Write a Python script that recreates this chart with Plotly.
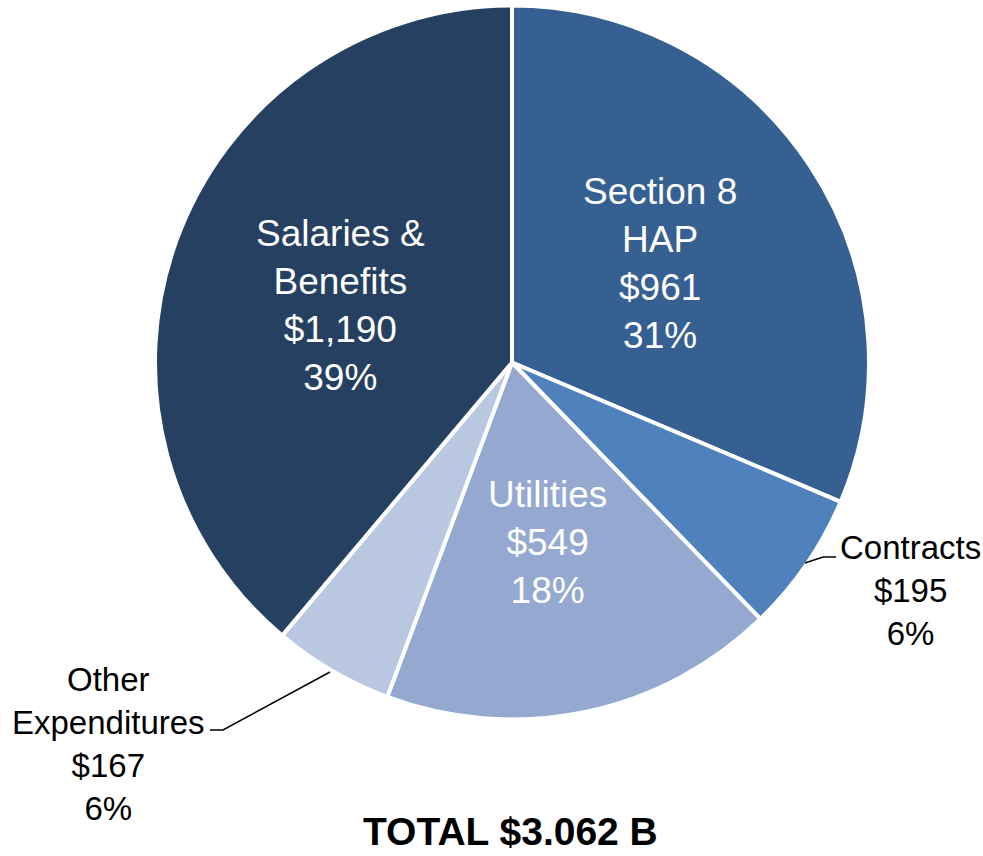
import plotly.graph_objects as go

W, H = 983, 856

categories = ["Section 8 HAP", "Contracts", "Utilities", "Other Expenditures", "Salaries & Benefits"]
values = [961, 195, 549, 167, 1190]
percents = ["31%", "6%", "18%", "6%", "39%"]
colors = ["#376092", "#4F81BD", "#95A9D0", "#B9C7E0", "#254061"]
total_label = "TOTAL $3.062 B"

FONT = "Liberation Sans Narrow, Arial Narrow, Liberation Sans, Arial, sans-serif"


def px(x, y):
    return x / W, 1 - y / H


fig = go.Figure(go.Pie(
    labels=categories,
    values=values,
    sort=False,
    direction="clockwise",
    rotation=0,
    marker=dict(colors=colors, line=dict(color="white", width=4)),
    textinfo="none",
    hoverinfo="label+value+percent",
    showlegend=False,
    domain=dict(x=[155 / W, 869 / W], y=[1 - 720 / H, 1 - 5 / H]),
))


def money(v):
    return "${:,}".format(v)


# label text per slice
texts = [
    "Section 8<br>HAP<br>%s<br>%s" % (money(values[0]), percents[0]),
    "Contracts<br>%s<br>%s" % (money(values[1]), percents[1]),
    "Utilities<br>%s<br>%s" % (money(values[2]), percents[2]),
    "Other<br>Expenditures<br>%s<br>%s" % (money(values[3]), percents[3]),
    "Salaries &<br>Benefits<br>%s<br>%s" % (money(values[4]), percents[4]),
]
label_pos = [(660, 264), (910, 590), (547, 542), (108, 744), (340, 305)]
label_col = ["white", "black", "white", "black", "white"]
label_size = [37, 33, 37, 33, 37]

for t, (x, y), c, s in zip(texts, label_pos, label_col, label_size):
    ax, ay = px(x, y)
    fig.add_annotation(x=ax, y=ay, xref="paper", yref="paper", text=t,
                       showarrow=False, xanchor="center", yanchor="middle",
                       font=dict(family=FONT, size=s, color=c))

tx, ty = px(510, 831)
fig.add_annotation(x=tx, y=ty, xref="paper", yref="paper", text="<b>%s</b>" % total_label,
                   showarrow=False, xanchor="center", yanchor="middle",
                   font=dict(family=FONT, size=39, color="black"))

# leader lines
def leader(points):
    path = ""
    for i, (x, y) in enumerate(points):
        a, b = px(x, y)
        path += ("M" if i == 0 else "L") + " %f %f " % (a, b)
    fig.add_shape(type="path", xref="paper", yref="paper", path=path,
                  line=dict(color="black", width=1.5))

leader([(805, 563), (823, 557), (836, 557)])
leader([(330, 672), (223, 730), (210, 730)])

fig.update_layout(width=W, height=H, margin=dict(l=0, r=0, t=0, b=0),
                  paper_bgcolor="white", plot_bgcolor="white")

fig.write_html("out.html", config={"displayModeBar": False},
               post_script="document.body.style.margin='0';")
